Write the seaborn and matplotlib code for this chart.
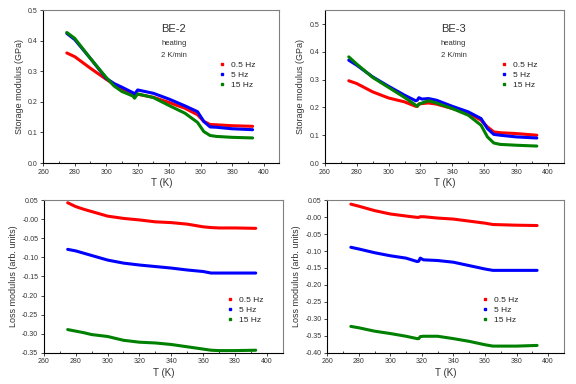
import numpy as np
import pandas as pd
import matplotlib
matplotlib.use("Agg")
import matplotlib.pyplot as plt
import seaborn as sns
from matplotlib.lines import Line2D
from matplotlib.ticker import MultipleLocator

# storage modulus, BE-2
t_s2 = [275, 280, 290, 300, 305, 310, 317, 318, 320, 330, 340, 350, 358, 362, 366, 370, 380, 393]
s2_05 = [0.360, 0.348, 0.310, 0.274, 0.257, 0.241, 0.226, 0.223, 0.225, 0.215, 0.198, 0.179, 0.158, 0.136, 0.126, 0.125, 0.122, 0.120]
s2_5 = [0.424, 0.404, 0.342, 0.277, 0.260, 0.248, 0.230, 0.225, 0.239, 0.228, 0.209, 0.187, 0.168, 0.136, 0.118, 0.117, 0.112, 0.109]
s2_15 = [0.427, 0.408, 0.342, 0.280, 0.252, 0.234, 0.219, 0.212, 0.226, 0.214, 0.188, 0.163, 0.133, 0.103, 0.090, 0.087, 0.084, 0.082]

# storage modulus, BE-3
t_s3 = [275, 280, 290, 300, 310, 317, 318, 319, 321, 325, 330, 340, 350, 358, 362, 366, 370, 380, 393]
s3_05 = [0.296, 0.286, 0.256, 0.234, 0.220, 0.204, 0.204, 0.212, 0.214, 0.216, 0.212, 0.196, 0.180, 0.154, 0.130, 0.112, 0.109, 0.106, 0.100]
s3_5 = [0.370, 0.352, 0.310, 0.276, 0.244, 0.224, 0.226, 0.235, 0.230, 0.232, 0.226, 0.204, 0.184, 0.160, 0.124, 0.103, 0.100, 0.094, 0.090]
s3_15 = [0.382, 0.356, 0.308, 0.272, 0.236, 0.208, 0.204, 0.212, 0.216, 0.224, 0.216, 0.196, 0.172, 0.136, 0.094, 0.072, 0.067, 0.064, 0.061]

# loss modulus, BE-2
t_l2 = [275, 280, 285, 290, 300, 310, 320, 330, 340, 350, 360, 365, 370, 380, 393]
l2_05 = [0.043, 0.033, 0.026, 0.020, 0.008, 0.002, -0.002, -0.007, -0.009, -0.013, -0.020, -0.022, -0.023, -0.023, -0.024]
l2_5 = [-0.079, -0.083, -0.089, -0.095, -0.107, -0.115, -0.120, -0.124, -0.128, -0.133, -0.137, -0.141, -0.141, -0.141, -0.141]
l2_15 = [-0.289, -0.293, -0.297, -0.302, -0.307, -0.317, -0.322, -0.324, -0.328, -0.334, -0.340, -0.343, -0.344, -0.344, -0.343]

# loss modulus, BE-3
t_l3 = [275, 280, 290, 300, 310, 317, 318, 319, 321, 330, 340, 350, 360, 365, 380, 393]
l3_05 = [0.038, 0.032, 0.019, 0.009, 0.003, -0.001, -0.001, 0.001, 0.001, -0.003, -0.006, -0.012, -0.018, -0.022, -0.024, -0.025]
l3_5 = [-0.089, -0.094, -0.105, -0.114, -0.121, -0.131, -0.130, -0.121, -0.126, -0.128, -0.133, -0.143, -0.153, -0.157, -0.157, -0.157]
l3_15 = [-0.322, -0.326, -0.336, -0.343, -0.351, -0.358, -0.358, -0.352, -0.351, -0.351, -0.358, -0.366, -0.376, -0.380, -0.380, -0.378]

freqs = ["0.5 Hz", "5 Hz", "15 Hz"]
colors = ["#ff0000", "#0000ff", "#008000"]

sns.set_style("white")
plt.rcParams['font.family'] = ['Liberation Sans', 'DejaVu Sans']

fig = plt.figure(figsize=(5.76, 3.84), dpi=100)
ax_tl = fig.add_axes([0.075, 0.5755, 0.41, 0.398])
ax_tr = fig.add_axes([0.564, 0.5755, 0.415, 0.398])
ax_bl = fig.add_axes([0.076, 0.081, 0.415, 0.398])
ax_br = fig.add_axes([0.568, 0.081, 0.411, 0.398])

panels = [
    (ax_tl, t_s2, [s2_05, s2_5, s2_15]),
    (ax_tr, t_s3, [s3_05, s3_5, s3_15]),
    (ax_bl, t_l2, [l2_05, l2_5, l2_15]),
    (ax_br, t_l3, [l3_05, l3_5, l3_15]),
]

for ax, t, series in panels:
    for vals, c in zip(series, colors):
        sns.lineplot(x=t, y=vals, ax=ax, color=c, linewidth=2.2)
    ax.set_xlim(260, 410)
    ax.set_xticks(np.arange(260, 401, 20))
    ax.xaxis.set_minor_locator(MultipleLocator(10))
    ax.tick_params(axis='both', which='major', direction='out', length=2.5, width=0.6,
                   labelsize=5, pad=1.5, bottom=True, left=True, labelcolor='#333333')
    ax.tick_params(axis='x', which='minor', direction='in', length=1.5, width=0.6, bottom=True)
    ax.set_xlabel("T (K)", fontsize=7, labelpad=2, color='#333333')
    for s in ['left', 'bottom']:
        ax.spines[s].set_color('black')
        ax.spines[s].set_linewidth(0.8)
    for s in ['top', 'right']:
        ax.spines[s].set_color('#808080')
        ax.spines[s].set_linewidth(0.8)
    handles = [Line2D([], [], ls='', marker='s', markersize=2.0, color=c) for c in colors]
    if ax is ax_tl:
        anchor = (0.74, 0.665)
    elif ax is ax_tr:
        anchor = (0.73, 0.665)
    elif ax is ax_bl:
        anchor = (0.76, 0.37)
    else:
        anchor = (0.65, 0.37)
    ax.legend(handles, freqs, loc='upper left', bbox_to_anchor=anchor, frameon=False,
              fontsize=6, handlelength=1.0, handletextpad=0.6, labelspacing=0.25,
              borderpad=0, borderaxespad=0)

ax_tl.set_ylim(0, 0.5)
ax_tl.set_yticks(np.arange(0, 0.51, 0.1))
ax_tr.set_ylim(0, 0.55)
ax_tr.set_yticks(np.arange(0, 0.51, 0.1))
for ax in [ax_tl, ax_tr]:
    ax.yaxis.set_major_formatter(matplotlib.ticker.FormatStrFormatter('%.1f'))
    ax.set_ylabel("Storage modulus (GPa)", fontsize=6.5, labelpad=3, color='#333333')

ax_bl.set_ylim(-0.35, 0.05)
ax_bl.set_yticks(np.arange(-0.35, 0.051, 0.05))
ax_br.set_ylim(-0.40, 0.05)
ax_br.set_yticks(np.arange(-0.40, 0.051, 0.05))
for ax in [ax_bl, ax_br]:
    ax.yaxis.set_major_formatter(matplotlib.ticker.FormatStrFormatter('%.2f'))
    ax.set_ylabel("Loss modulus (arb. units)", fontsize=6.5, labelpad=3, color='#333333')

for ax, name, x0 in [(ax_tl, "BE-2", 0.50), (ax_tr, "BE-3", 0.485)]:
    ax.text(x0, 0.875, name, transform=ax.transAxes, fontsize=8, ha='left', va='center', color='#333333')
    ax.text(x0, 0.78, "heating", transform=ax.transAxes, fontsize=5.5, ha='left', va='center', color='#333333')
    ax.text(x0, 0.705, "2 K/min", transform=ax.transAxes, fontsize=5.5, ha='left', va='center', color='#333333')

fig.savefig("out.png", dpi=100)
